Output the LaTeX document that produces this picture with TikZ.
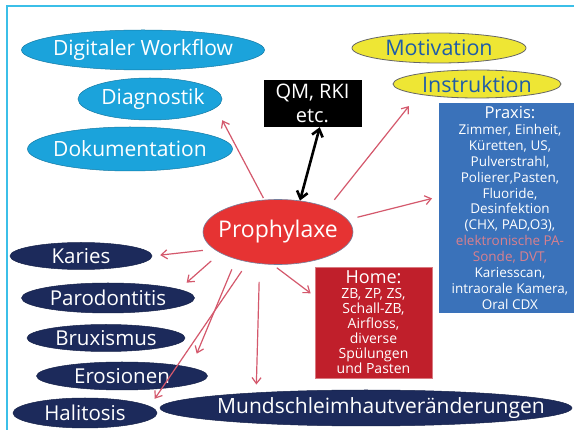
\documentclass[tikz,border=0pt]{standalone}
\usepackage{fontspec}
\setmainfont{Open Sans}
\usetikzlibrary{shapes.geometric,arrows.meta}

\definecolor{framecyan}{HTML}{3BBFE8}
\definecolor{skyblob}{HTML}{1BA3DB}
\definecolor{navyblob}{HTML}{1C2A5B}
\definecolor{yellowblob}{HTML}{EEE634}
\definecolor{motivtext}{HTML}{1E5CA8}
\definecolor{prophred}{HTML}{E63333}
\definecolor{homered}{HTML}{C01F2B}
\definecolor{praxisblue}{HTML}{3A72BA}
\definecolor{pinktext}{HTML}{D9808E}
\definecolor{arrowred}{HTML}{D4586C}

\newcommand{\fs}[1]{\fontsize{#1}{#1}\selectfont}

\begin{document}
\begin{tikzpicture}[x=1pt, y=-1pt,
	blob/.style={ellipse, inner sep=0pt},
	skyblob/.style={blob, fill=skyblob, draw=skyblob!75!black, line width=0.5pt},
	navyblob/.style={blob, fill=navyblob, draw=navyblob!80!black, line width=0.5pt},
	yellowblob/.style={blob, fill=yellowblob, draw=gray!80!black, line width=0.8pt},
	skytxt/.style={text=white, font=\fs{21}},
	navytxt/.style={text=white, font=\fs{20.5}},
	pa/.style={draw=arrowred, line width=1.2pt, -{Straight Barb[length=6pt, width=9pt]}},
]
	\useasboundingbox (0,0) rectangle (574,430);
	\fill[white] (0,0) rectangle (574,430);
	% frame line (left and top)
	\draw[framecyan, line width=1.5pt] (7,430) -- (7,6) -- (574,6);

	% blue ellipses (upper left)
	\node[skyblob, minimum width=243pt, minimum height=40pt, label={[skytxt]center:Digitaler Workflow}] (dwf) at (143,50) {};
	\node[skyblob, minimum width=144pt, minimum height=42pt, label={[skytxt, xshift=3pt]center:Diagnostik}] (diag) at (150,99) {};
	\node[skyblob, minimum width=205pt, minimum height=44pt, label={[skytxt]center:Dokumentation}] (doku) at (130,149) {};

	% black box
	\node[fill=black, text=white, minimum width=98pt, minimum height=47pt, align=center, font=\fontsize{20}{24}\selectfont, inner sep=0pt] (qm) at (312.5,103.5) {QM, RKI\\etc.};

	% yellow ellipses (upper right)
	\node[yellowblob, minimum width=174pt, minimum height=30pt, label={[text=motivtext, font=\fs{21.5}]center:Motivation}] (motiv) at (439,48) {};
	\node[yellowblob, minimum width=168pt, minimum height=28pt, label={[text=motivtext, font=\fs{21.5}]center:Instruktion}] (instr) at (477,84) {};

	% Praxis box
	\node[fill=praxisblue, text=white, minimum width=142pt, minimum height=210pt, inner sep=0pt, align=center, font=\fontsize{13.5}{15.9}\selectfont] (praxis) at (510,208)
		{{\fontsize{16.5}{15.5}\selectfont Praxis:}\\Zimmer, Einheit,\\Küretten, US,\\Pulverstrahl,\\Polierer,Pasten,\\Fluoride,\\Desinfektion\\(CHX, PAD,O3),\\\textcolor{pinktext}{elektronische PA-}\\\textcolor{pinktext}{Sonde, DVT,}\\Kariesscan,\\intraorale Kamera,\\Oral CDX};

	% centre
	\node[blob, fill=prophred, draw=navyblob!60, line width=0.6pt, minimum width=150pt, minimum height=65pt, label={[text=white, font=\fs{23}]center:Prophylaxe}] (proph) at (278,232) {};

	% Home box
	\node[fill=homered, draw=homered!60, line width=0.8pt, text=white, minimum width=117pt, minimum height=111pt, inner sep=0pt, align=center, font=\fontsize{14}{15}\selectfont] (home) at (373.5,322.5)
		{{\fontsize{18}{16}\selectfont Home:}\\ZB, ZP, ZS,\\Schall-ZB,\\Airfloss,\\diverse\\Spülungen\\und Pasten};

	% dark ellipses (lower left)
	\node[navyblob, minimum width=142pt, minimum height=27pt, label={[navytxt]center:Karies}] (karies) at (81,256) {};
	\node[navyblob, minimum width=173pt, minimum height=30pt, label={[navytxt]center:Parodontitis}] (paro) at (108,298) {};
	\node[navyblob, minimum width=158pt, minimum height=27pt, label={[navytxt]center:Bruxismus}] (brux) at (106,338) {};
	\node[navyblob, minimum width=171pt, minimum height=28pt, label={[navytxt]center:Erosionen}] (eros) at (122,376) {};
	\node[navyblob, minimum width=144pt, minimum height=30pt, label={[navytxt]center:Halitosis}] (hali) at (85,413) {};
	\node[navyblob, minimum width=412pt, minimum height=36pt, label={[navytxt, font=\fs{21}, xshift=15pt]center:Mundschleimhautveränderungen}] (mund) at (366,408) {};

	% arrows from Prophylaxe
	\draw[pa, shorten <=2pt] (proph.113) -- (diag.east |- diag.south);
	\draw[pa, shorten <=10pt, shorten >=15pt] (proph.26) -- (instr.190);
	\draw[pa, shorten <=10pt, shorten >=7pt] (proph.10) -- (praxis.171);
	\draw[pa, shorten <=11pt, shorten >=8pt] (proph.195) -- (karies.east);
	\draw[pa, shorten <=12pt, shorten >=10pt] (proph.200) -- (paro.7);
	\draw[pa, shorten <=11pt, shorten >=15pt] (proph.213) -- (eros.7);
	\draw[pa, shorten <=11pt, shorten >=9pt] (proph.225) -- (hali.6);
	\draw[pa, shorten <=18pt, shorten >=8pt] (proph.240) -- (mund.172);
	\draw[pa, shorten <=5pt, shorten >=5pt] (proph.261) -- (home.156);
	% double arrow to QM box
	\draw[line width=2.6pt, {Straight Barb[length=7pt, width=11pt]}-{Straight Barb[length=7pt, width=11pt]}] (qm.-73) -- (proph.55);
\end{tikzpicture}
\end{document}
